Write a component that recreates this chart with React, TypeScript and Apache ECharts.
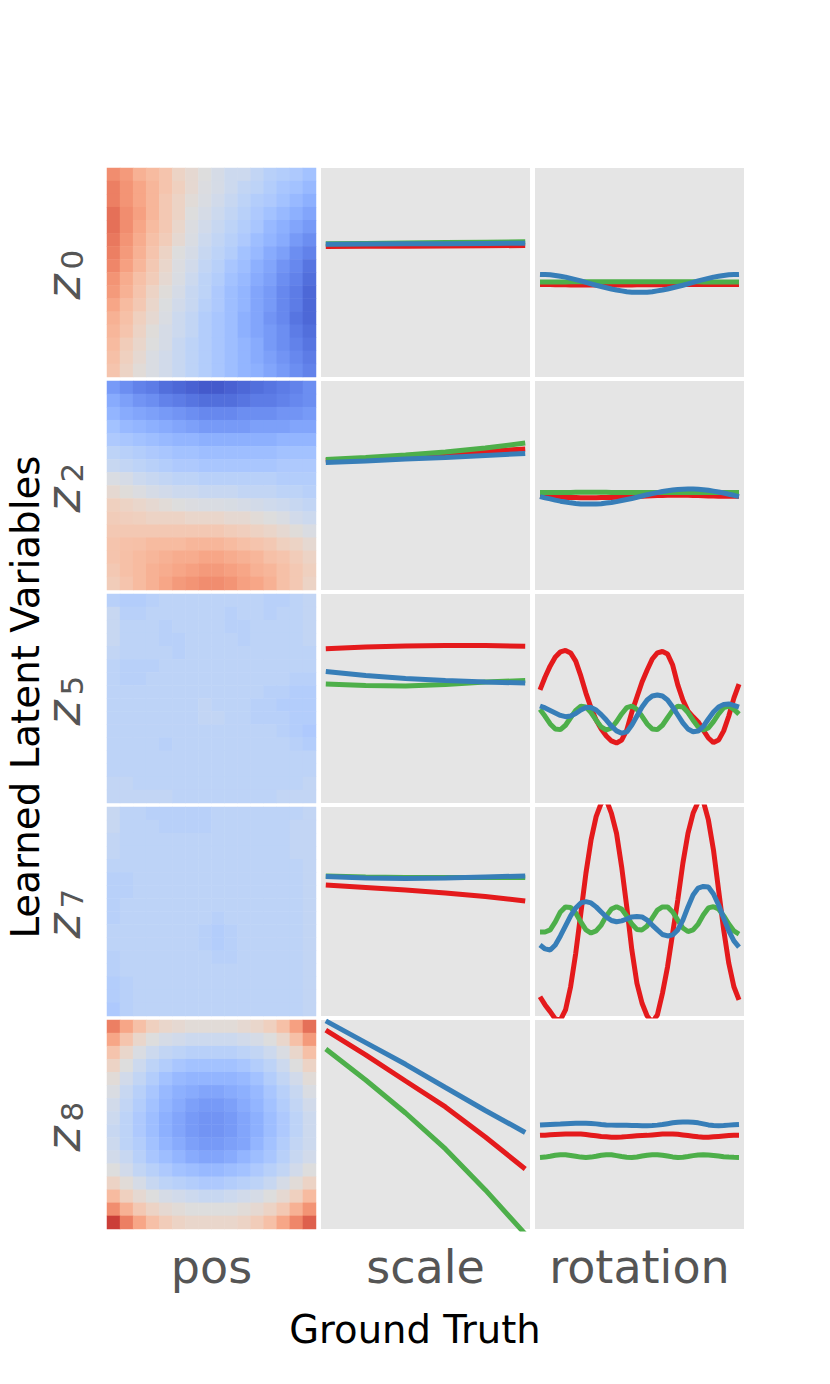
import React, { useEffect, useRef } from 'react';
import * as echarts from 'echarts';

// ---------- colour map (coolwarm, 33 steps from -16 to +16) ----------
const COOLWARM = [
  '#3b4cc0', '#445acc', '#4d68d7', '#5775e1', '#6282ea', '#6c8ef1', '#779af7', '#82a5fb',
  '#8db0fe', '#98b9ff', '#a3c2ff', '#aec9fd', '#b8d0f9', '#c2d5f4', '#ccd9ee', '#d5dbe6',
  '#dddddd', '#e5d8d1', '#ecd3c5', '#f1ccb9', '#f5c4ad', '#f7bba0', '#f7b194', '#f7a687',
  '#f49a7b', '#f18d6f', '#ec7f63', '#e57058', '#de604d', '#d55042', '#cb3e38', '#c0282f', '#b40426',
];

// ---------- labels ----------
const ROW_SUBSCRIPTS = ['0', '2', '5', '7', '8'];
const COLUMN_LABELS = ['pos', 'scale', 'rotation'];
const X_TITLE = 'Ground Truth';
const Y_TITLE = 'Learned Latent Variables';

// ---------- x values ----------
const SCALE_X = [0.5, 0.6, 0.7, 0.8, 0.9, 1.0];
const ROTATION_STEPS = 40; // rotation sampled at 40 steps (index on x)

// ---------- heatmaps (pos), 16 x 16, rows top -> bottom ----------
const HEAT_Z0 = [
  [9, 8, 6, 5, 4, 2, 1, 0, -1, -2, -2, -3, -4, -4.5, -5, -6],
  [10, 8.5, 7, 5.5, 4, 2.5, 1, -0.3, -1, -2, -3, -3.5, -4.5, -5.5, -6, -7],
  [10, 8.5, 7, 5.5, 3.5, 2, 0.5, -0.5, -1.5, -2.5, -3.5, -4.5, -5, -6, -7, -8],
  [11, 9, 7.5, 5.5, 3.5, 2, 0, -1, -2, -3, -4, -5, -6, -7, -8, -9],
  [11, 9, 7, 5, 3.5, 1.5, -0.3, -1.5, -2.5, -3.5, -4.5, -5.5, -7, -8, -9, -10],
  [10.5, 8.5, 6.5, 4.5, 3, 1, -0.5, -2, -3, -4, -5, -6.5, -7.5, -8.5, -10, -11],
  [10, 8, 6, 4, 2, 0, -1, -2.5, -3.5, -4.5, -6, -7, -8.5, -9.5, -11, -12],
  [9.5, 7.5, 5.5, 3.5, 1.5, -0.3, -1.5, -3, -4, -5.5, -6.5, -8, -9, -10.5, -11.5, -13],
  [8.5, 6.5, 4.5, 3, 1, -0.5, -2, -3.5, -4.5, -6, -7, -8.5, -9.5, -11, -12, -13.5],
  [8, 6, 4, 2, 0.3, -1, -2.5, -3.5, -5, -6.5, -7.5, -9, -10, -11.5, -12.5, -14],
  [7, 5, 3.5, 1.5, -0.2, -1.5, -2.5, -4, -5, -6.5, -7.5, -9, -10, -11.5, -12.5, -14],
  [6, 4.5, 2.5, 1, -0.5, -2, -3, -4.5, -5.5, -6.5, -8, -9, -10.5, -11.5, -13, -14],
  [5.5, 4, 2, 0.3, -1, -2, -3, -4.5, -5.5, -6.5, -8, -9, -10, -11, -12.5, -13.5],
  [5, 3, 1.5, 0, -1, -2.5, -3.5, -4.5, -5.5, -6.5, -7.5, -8.5, -10, -11, -12, -13],
  [4.5, 2.5, 1, -0.5, -1.5, -2.5, -3.5, -4.5, -5.5, -6.5, -7.5, -8.5, -9.5, -10.5, -11.5, -12.5],
  [4, 2, 0.5, -0.5, -1.5, -2.5, -3.5, -4.5, -5.5, -6.5, -7.5, -8, -9, -10, -11, -12],
];

const HEAT_Z2 = [
  [-10, -11, -12, -12.5, -13.5, -14, -14.5, -15, -15, -14.5, -14, -13.5, -13, -12.5, -12, -11],
  [-8.5, -9.5, -10.5, -11, -12, -12.5, -13, -13.5, -13.5, -13.5, -13, -12.5, -12.5, -12, -11.5, -11],
  [-7.5, -8.5, -9, -9.5, -10, -10.5, -11, -11.5, -11.5, -11.5, -11, -11, -11, -10.5, -10.5, -10],
  [-6, -7, -7.5, -8, -8.5, -9, -9.5, -10, -10, -10, -10, -9.5, -9.5, -9.5, -9, -9],
  [-5, -5.5, -6, -6.5, -7, -7.5, -7.5, -8, -8, -8, -8, -8, -8, -7.5, -7.5, -7.5],
  [-3.5, -4, -4.5, -5, -5.5, -6, -6, -6.5, -6.5, -6.5, -6.5, -6.5, -6.5, -6, -6, -6],
  [-2.5, -3, -3.5, -4, -4.5, -5, -5, -5.5, -5.5, -5.5, -5.5, -5.5, -5.5, -5, -5, -5],
  [-0.5, -1, -2, -2.5, -3, -3.5, -3.5, -4, -4, -4, -4, -4, -4, -4.5, -4.5, -4.5],
  [1, 0.3, -0.3, -1, -1.5, -2, -2, -2.5, -2.5, -2.5, -3, -3, -3, -3.5, -3.5, -4],
  [2.5, 2, 1.5, 1, 0.5, 0, -0.3, -0.5, -0.5, -0.7, -1, -1.3, -1.7, -2, -2.5, -3],
  [3, 2.7, 2.5, 2, 2, 2, 1.5, 1.5, 1.5, 1, 1, 0.5, 0, -0.5, -1.5, -2],
  [3.5, 3.5, 3.5, 3.5, 3.5, 3.5, 3.5, 3.5, 3.5, 3, 2.7, 2.2, 1.7, 1, 0.3, -0.5],
  [4, 4.3, 4.5, 5, 5, 5, 5.5, 5.5, 5.5, 5, 4.5, 4, 3.5, 2.5, 2, 1],
  [4, 4.5, 5, 5.5, 6, 6.5, 6.5, 7, 7, 6.5, 6, 5.5, 4.5, 4, 3, 2],
  [3.5, 4.5, 5, 6, 6.5, 7, 7.5, 8, 8, 7.5, 7, 6, 5.5, 4.5, 3.5, 2.5],
  [3, 4, 5, 6, 7, 8, 8.5, 9, 9, 8.5, 7.5, 7, 6, 4.5, 3.5, 2],
];

const HEAT_Z5 = [
  [-4, -4.5, -4.5, -4, -3.5, -3.5, -3.5, -3.5, -3.5, -3.5, -3.5, -3.5, -4, -4, -3.5, -3],
  [-2.5, -4, -4, -3.5, -3.5, -3.5, -3.5, -3.5, -3.5, -4, -3.5, -3.5, -4, -3.5, -3.5, -3],
  [-2.5, -3.5, -3.5, -3.5, -4, -3.5, -3.5, -3.5, -3.5, -4, -4, -3.5, -3.5, -3.5, -3.5, -3],
  [-2.5, -3.5, -3.5, -3.5, -4, -4, -3.5, -3.5, -3.5, -3.5, -4, -3.5, -3.5, -3.5, -3.5, -3],
  [-3, -3.5, -3.5, -3.5, -3.5, -4, -3.5, -3.5, -3.5, -3.5, -3.5, -3.5, -3.5, -3.5, -3.5, -3.5],
  [-3.5, -4, -4, -4, -3.5, -3.5, -3.5, -3.5, -3.5, -3.5, -3.5, -3.5, -3.5, -3.5, -3.5, -3.5],
  [-3.5, -4, -4, -3.5, -3.5, -3.5, -3.5, -3.5, -3.5, -3.5, -3.5, -3.5, -3.5, -3.5, -4, -4],
  [-3.5, -3.5, -3.5, -3.5, -3.5, -3.5, -3.5, -3.5, -3.5, -3.5, -3.5, -3.5, -4, -4, -4.5, -4.5],
  [-3.5, -3.5, -3.5, -3.5, -3.5, -3.5, -3.5, -3, -3.5, -3.5, -3.5, -4, -4, -4.5, -4.5, -4.5],
  [-3.5, -3.5, -3.5, -3.5, -3.5, -3.5, -3.5, -3, -3, -3.5, -3.5, -4, -4, -4, -4.5, -4.5],
  [-3.5, -3.5, -3.5, -3.5, -3.5, -3.5, -3.5, -3.5, -3.5, -3.5, -3.5, -3.5, -3.5, -4, -4.5, -5],
  [-3.5, -3.5, -3.5, -3.5, -4, -3.5, -3.5, -3.5, -3.5, -3.5, -3.5, -3.5, -3.5, -3.5, -4, -4.5],
  [-3.5, -3.5, -3.5, -3.5, -3.5, -3.5, -3.5, -3.5, -3.5, -3.5, -3.5, -3.5, -3.5, -3.5, -3.5, -3.5],
  [-3.5, -3.5, -3.5, -3.5, -3.5, -3.5, -3.5, -3.5, -3.5, -3.5, -3.5, -3.5, -3.5, -3.5, -3.5, -3.5],
  [-3, -3, -3.5, -3.5, -3.5, -3.5, -3.5, -3.5, -3.5, -3.5, -3.5, -3.5, -3.5, -3.5, -3.5, -3],
  [-3, -3, -3, -3, -3, -3.5, -3.5, -3.5, -3.5, -3.5, -3.5, -3.5, -3.5, -3, -3, -3],
];

const HEAT_Z7 = [
  [-2.5, -3.5, -3.5, -4, -4, -4, -4, -4, -3.5, -3.5, -3.5, -3.5, -3.5, -3.5, -3.5, -3],
  [-2.5, -3.5, -3.5, -3.5, -4, -4, -4, -4, -3.5, -3.5, -3.5, -3.5, -3.5, -3.5, -3, -3],
  [-3, -3.5, -3.5, -3.5, -3.5, -3.5, -3.5, -3.5, -3.5, -3.5, -3.5, -3.5, -3.5, -3.5, -3, -3],
  [-3, -3.5, -3.5, -3.5, -3.5, -3.5, -3.5, -3.5, -3.5, -3.5, -3.5, -3.5, -3.5, -3.5, -3, -3],
  [-3.5, -3.5, -3.5, -3.5, -3.5, -3.5, -3.5, -3.5, -3.5, -3.5, -3.5, -3.5, -3.5, -3.5, -3.5, -3],
  [-4, -4, -3.5, -3.5, -3.5, -3.5, -3.5, -3.5, -3.5, -3.5, -3.5, -3.5, -3.5, -3.5, -3.5, -3],
  [-4, -4, -3.5, -3.5, -3.5, -3.5, -3.5, -3.5, -3.5, -3.5, -3.5, -3.5, -3.5, -3.5, -3.5, -3],
  [-4, -3.5, -3.5, -3.5, -3.5, -3.5, -3.5, -3.5, -3.5, -3.5, -3.5, -3.5, -3.5, -3.5, -3.5, -3],
  [-4, -3.5, -3.5, -3.5, -3.5, -3.5, -3.5, -3.5, -4, -3.5, -3.5, -3.5, -3.5, -3.5, -3.5, -3],
  [-3.5, -3.5, -3.5, -3.5, -3.5, -3.5, -3.5, -4, -4.5, -4, -3.5, -3.5, -3.5, -3.5, -3.5, -3],
  [-3.5, -3.5, -3.5, -3.5, -3.5, -3.5, -3.5, -4, -4.5, -4, -3.5, -3.5, -3.5, -3.5, -3.5, -3],
  [-4, -3.5, -3.5, -3.5, -3.5, -3.5, -3.5, -3.5, -4, -4, -3.5, -3.5, -3.5, -3.5, -3.5, -3],
  [-4, -3.5, -3.5, -3.5, -3.5, -3.5, -3.5, -3.5, -3.5, -3.5, -3.5, -3.5, -3.5, -3.5, -3.5, -3],
  [-4.5, -4, -3.5, -3.5, -3.5, -3.5, -3.5, -3.5, -3.5, -3.5, -3.5, -3.5, -3.5, -3.5, -3.5, -3],
  [-4.5, -4, -3.5, -3.5, -3.5, -3.5, -3.5, -3.5, -3.5, -3.5, -3.5, -3.5, -3.5, -3.5, -3.5, -3],
  [-5, -4, -3.5, -3.5, -3.5, -3.5, -3.5, -3.5, -3.5, -3.5, -3.5, -3.5, -3.5, -3.5, -3.5, -3],
];

const HEAT_Z8 = [
  [10, 7, 4.5, 2.5, 1.5, 1, 0.5, 0.5, 0.5, 0.5, 1, 1.5, 2.5, 4.5, 7.5, 11],
  [7, 4, 1.5, 0, -1, -1.5, -2, -2, -2, -2, -1.5, -1, 0, 1.5, 4.5, 8],
  [4, 1.5, -0.5, -2, -3, -3.5, -4, -4, -4, -4, -3.5, -3, -2, -0.5, 1.5, 4.5],
  [2, 0, -2, -3.5, -4.5, -5.5, -6, -6, -6, -6, -5.5, -4.5, -3.5, -2, 0, 2],
  [0.5, -1.5, -3, -4.5, -6, -7, -7.5, -7.5, -7.5, -7.5, -7, -6, -4.5, -3, -1.5, 0.5],
  [-0.5, -2.5, -4, -5.5, -7, -8, -8.5, -9, -9, -8.5, -8, -7, -5.5, -4, -2.5, -0.5],
  [-1.5, -3, -4.5, -6, -7.5, -8.5, -9.5, -10, -10, -9.5, -8.5, -7.5, -6, -4.5, -3, -1.5],
  [-2, -3.5, -5, -6.5, -8, -9, -10, -10.5, -10.5, -10, -9, -8, -6.5, -5, -3.5, -2],
  [-2.5, -3.5, -5, -6.5, -8, -9, -10, -10.5, -10.5, -10, -9, -8, -6.5, -5, -3.5, -2],
  [-2, -3.5, -4.5, -6, -7.5, -8.5, -9.5, -10, -10, -9.5, -9, -7.5, -6, -4.5, -3, -2],
  [-1.5, -2.5, -4, -5.5, -6.5, -7.5, -8.5, -9, -9, -8.5, -7.5, -6.5, -5.5, -4, -2.5, -1.5],
  [0, -1.5, -3, -4, -5, -6, -6.5, -7, -7, -6.5, -6, -5, -4, -3, -1.5, 0],
  [2, 0.5, -1, -2.5, -3.5, -4, -4.5, -5, -5, -4.5, -4, -3.5, -2.5, -1, 0.5, 2],
  [5, 2.5, 1, 0, -1, -1.5, -2, -2.5, -2.5, -2, -1.5, -1, 0, 1, 2.5, 5],
  [9, 6, 3.5, 2, 1, 0.5, 0, 0, 0, 0, 0.5, 1, 2, 3.5, 6, 8.5],
  [14, 10, 7, 4.5, 3, 2, 1.5, 1.5, 1.5, 1.5, 2, 3, 4.5, 7, 9.5, 12],
];

// ---------- scale lines (6 points) ----------
const Z0_SCALE_RED = [62.4, 62.5, 62.6, 62.7, 62.8, 62.9];
const Z0_SCALE_GREEN = [63.7, 63.9, 64.1, 64.3, 64.5, 64.7];
const Z0_SCALE_BLUE = [63.5, 63.6, 63.7, 63.8, 63.9, 64.0];

const Z2_SCALE_RED = [62.0, 62.9, 63.9, 65.1, 66.3, 67.5];
const Z2_SCALE_GREEN = [62.4, 63.4, 64.6, 66.0, 67.9, 70.3];
const Z2_SCALE_BLUE = [61.0, 61.7, 62.7, 63.4, 64.4, 65.3];

const Z5_SCALE_RED = [73.8, 74.6, 75.1, 75.4, 75.3, 75.0];
const Z5_SCALE_GREEN = [56.9, 56.2, 56.0, 56.7, 57.9, 58.6];
const Z5_SCALE_BLUE = [62.9, 61.0, 59.6, 58.6, 57.9, 57.4];

const Z7_SCALE_RED = [62.7, 61.5, 60.3, 58.9, 57.2, 55.0];
const Z7_SCALE_GREEN = [67.0, 66.5, 66.3, 66.3, 66.3, 66.3];
const Z7_SCALE_BLUE = [66.7, 66.0, 65.8, 66.0, 66.5, 67.0];

const Z8_SCALE_RED = [95.2, 83.3, 70.8, 58.4, 44.0, 28.7];
const Z8_SCALE_GREEN = [86.1, 71.3, 55.5, 38.3, 18.7, -2.4];
const Z8_SCALE_BLUE = [99.6, 89.2, 78.8, 67.7, 56.7, 46.2];

// ---------- rotation lines (40 points) ----------
const Z0_ROT_RED = [44.2, 44.2, 44.2, 44.1, 44.1, 44.1, 44.0, 44.0, 44.0, 44.0, 44.0, 44.0, 44.0, 44.0, 44.0, 44.0, 44.0, 44.0, 44.0, 44.1, 44.1, 44.1, 44.1, 44.1, 44.1, 44.1, 44.1, 44.2, 44.2, 44.2, 44.2, 44.2, 44.2, 44.2, 44.2, 44.2, 44.2, 44.2, 44.2, 44.2];
const Z0_ROT_GREEN = [45.5, 45.5, 45.5, 45.5, 45.5, 45.5, 45.6, 45.6, 45.6, 45.6, 45.6, 45.6, 45.6, 45.6, 45.6, 45.6, 45.6, 45.6, 45.6, 45.6, 45.6, 45.6, 45.6, 45.6, 45.6, 45.6, 45.6, 45.6, 45.6, 45.6, 45.6, 45.6, 45.5, 45.5, 45.5, 45.5, 45.5, 45.5, 45.5, 45.5];
const Z0_ROT_BLUE = [49.1, 49.0, 48.9, 48.6, 48.2, 47.8, 47.2, 46.6, 46.0, 45.3, 44.6, 43.9, 43.3, 42.7, 42.1, 41.6, 41.2, 40.8, 40.6, 40.5, 40.5, 40.6, 40.8, 41.2, 41.6, 42.1, 42.7, 43.3, 43.9, 44.6, 45.3, 46.0, 46.6, 47.2, 47.8, 48.2, 48.6, 48.9, 49.0, 49.1];

const Z2_ROT_RED = [44.8, 44.7, 44.6, 44.5, 44.4, 44.3, 44.2, 44.2, 44.1, 44.1, 44.1, 44.1, 44.2, 44.2, 44.3, 44.4, 44.5, 44.6, 44.7, 44.8, 44.9, 45.0, 45.1, 45.2, 45.2, 45.3, 45.3, 45.3, 45.3, 45.3, 45.2, 45.2, 45.1, 45.0, 45.0, 44.9, 44.9, 44.8, 44.8, 44.8];
const Z2_ROT_GREEN = [46.6, 46.6, 46.6, 46.7, 46.7, 46.7, 46.7, 46.8, 46.8, 46.8, 46.8, 46.8, 46.8, 46.8, 46.7, 46.7, 46.7, 46.7, 46.7, 46.7, 46.7, 46.7, 46.7, 46.7, 46.6, 46.6, 46.6, 46.6, 46.6, 46.6, 46.6, 46.6, 46.6, 46.6, 46.6, 46.6, 46.6, 46.6, 46.6, 46.6];
const Z2_ROT_BLUE = [44.7, 44.1, 43.6, 43.0, 42.5, 42.1, 41.7, 41.4, 41.2, 41.1, 41.1, 41.2, 41.3, 41.6, 41.9, 42.3, 42.8, 43.3, 43.8, 44.4, 45.0, 45.6, 46.1, 46.6, 47.1, 47.5, 47.8, 48.1, 48.2, 48.3, 48.3, 48.2, 48.0, 47.7, 47.3, 46.9, 46.4, 45.8, 45.3, 44.7];

const Z5_ROT_RED = [54.1, 60.3, 65.6, 69.9, 72.3, 73.0, 71.8, 67.9, 60.8, 52.6, 45.5, 39.7, 35.4, 32.1, 29.7, 28.7, 30.1, 34.9, 43.5, 50.7, 57.9, 63.6, 68.9, 71.8, 72.5, 71.3, 66.0, 56.5, 49.3, 44.0, 41.2, 38.8, 34.9, 31.1, 28.9, 30.1, 34.5, 41.6, 50.2, 56.9];
const Z5_ROT_GREEN = [44.8, 41.5, 37.8, 35.4, 35.1, 37.2, 40.8, 44.3, 46.3, 45.9, 43.3, 39.6, 36.4, 34.9, 35.9, 38.9, 42.6, 45.6, 46.4, 44.8, 41.5, 37.8, 35.4, 35.1, 37.2, 40.8, 44.3, 46.3, 45.9, 43.3, 39.6, 36.4, 34.9, 35.9, 38.9, 42.6, 45.6, 46.4, 44.8, 42.5];
const Z5_ROT_BLUE = [46.4, 45.5, 44.3, 43.1, 41.9, 41.3, 41.6, 42.8, 44.5, 45.7, 45.7, 44.5, 42.3, 39.7, 36.8, 34.5, 33.4, 34.0, 37.3, 41.6, 45.9, 49.3, 51.2, 51.7, 51.2, 49.3, 45.9, 42.1, 38.3, 35.4, 34.1, 34.4, 36.6, 40.2, 43.5, 45.9, 47.1, 47.4, 46.7, 45.9];

const Z7_ROT_RED = [9.2, 5.3, 2.1, -1.4, -1.9, 2.9, 14.0, 30.0, 49.1, 68.3, 84.2, 95.4, 101.9, 103.4, 97.0, 87.4, 71.4, 52.3, 31.6, 15.6, 6.1, 0.0, -2.9, 0.5, 10.9, 23.6, 39.6, 55.5, 73.1, 87.4, 97.0, 102.5, 102.8, 93.8, 79.4, 60.3, 41.2, 25.2, 14.0, 7.7];
const Z7_ROT_GREEN = [40.2, 40.2, 41.2, 45.0, 49.8, 52.2, 51.9, 49.3, 45.0, 41.2, 39.7, 40.7, 43.5, 47.9, 51.2, 52.3, 51.2, 47.9, 44.0, 41.4, 41.2, 43.1, 46.9, 50.7, 52.2, 52.2, 49.8, 45.9, 42.1, 40.4, 41.2, 44.0, 48.3, 51.7, 52.3, 51.2, 47.9, 44.0, 40.7, 39.2];
const Z7_ROT_BLUE = [34.0, 32.1, 31.6, 34.0, 38.3, 43.1, 47.9, 51.7, 54.1, 54.7, 54.1, 52.2, 49.8, 47.4, 45.7, 45.1, 45.5, 46.4, 47.4, 47.6, 47.4, 45.9, 43.5, 41.2, 39.0, 38.3, 38.8, 41.2, 45.9, 52.2, 57.9, 61.2, 62.0, 61.7, 58.4, 53.1, 46.9, 40.7, 35.9, 33.0];

const Z8_ROT_RED = [44.8, 44.9, 45.1, 45.2, 45.3, 45.4, 45.5, 45.5, 45.4, 45.2, 44.9, 44.6, 44.3, 44.1, 43.9, 43.9, 44.0, 44.2, 44.4, 44.6, 44.7, 44.8, 45.0, 45.2, 45.4, 45.5, 45.5, 45.3, 45.0, 44.7, 44.4, 44.1, 43.9, 43.9, 44.1, 44.3, 44.5, 44.7, 44.8, 44.8];
const Z8_ROT_GREEN = [34.25, 34.4, 34.8, 35.3, 35.55, 35.5, 35.2, 34.8, 34.4, 34.25, 34.4, 34.8, 35.3, 35.55, 35.5, 35.1, 34.7, 34.35, 34.25, 34.45, 34.9, 35.3, 35.5, 35.55, 35.3, 34.9, 34.5, 34.25, 34.35, 34.7, 35.1, 35.4, 35.55, 35.45, 35.2, 34.9, 34.6, 34.4, 34.3, 34.25];
const Z8_ROT_BLUE = [49.8, 49.9, 50.0, 50.1, 50.2, 50.4, 50.5, 50.6, 50.6, 50.6, 50.5, 50.3, 50.0, 49.8, 49.7, 49.6, 49.6, 49.6, 49.5, 49.5, 49.4, 49.4, 49.5, 49.7, 50.0, 50.4, 50.8, 51.1, 51.2, 51.2, 51.1, 50.8, 50.3, 49.8, 49.5, 49.4, 49.5, 49.7, 49.9, 50.0];

// ---------- styling / layout ----------
const LINE_COLORS = ['#e41a1c', '#4daf4a', '#377eb8'];
const LINE_WIDTH = 5;
const PANEL_BG = '#e5e5e5';
const COL_LEFTS = [107, 321, 535];
const ROW_TOPS = [168, 381, 594, 807, 1020];
const PANEL = 209;
const FONT = '"DejaVu Sans", "Liberation Sans", sans-serif';

const ROWS = [
  { sub: ROW_SUBSCRIPTS[0], heat: HEAT_Z0, scale: [Z0_SCALE_RED, Z0_SCALE_GREEN, Z0_SCALE_BLUE], rot: [Z0_ROT_RED, Z0_ROT_GREEN, Z0_ROT_BLUE] },
  { sub: ROW_SUBSCRIPTS[1], heat: HEAT_Z2, scale: [Z2_SCALE_RED, Z2_SCALE_GREEN, Z2_SCALE_BLUE], rot: [Z2_ROT_RED, Z2_ROT_GREEN, Z2_ROT_BLUE] },
  { sub: ROW_SUBSCRIPTS[2], heat: HEAT_Z5, scale: [Z5_SCALE_RED, Z5_SCALE_GREEN, Z5_SCALE_BLUE], rot: [Z5_ROT_RED, Z5_ROT_GREEN, Z5_ROT_BLUE] },
  { sub: ROW_SUBSCRIPTS[3], heat: HEAT_Z7, scale: [Z7_SCALE_RED, Z7_SCALE_GREEN, Z7_SCALE_BLUE], rot: [Z7_ROT_RED, Z7_ROT_GREEN, Z7_ROT_BLUE] },
  { sub: ROW_SUBSCRIPTS[4], heat: HEAT_Z8, scale: [Z8_SCALE_RED, Z8_SCALE_GREEN, Z8_SCALE_BLUE], rot: [Z8_ROT_RED, Z8_ROT_GREEN, Z8_ROT_BLUE] },
];

function buildOption() {
  const grid: any[] = [];
  const xAxis: any[] = [];
  const yAxis: any[] = [];
  const series: any[] = [];
  const heatIdx: number[] = [];
  const cats = Array.from({ length: 16 }, (_, i) => String(i));

  ROWS.forEach((row, r) => {
    const top = ROW_TOPS[r];
    // --- heatmap panel ---
    let gi = grid.length;
    grid.push({ left: COL_LEFTS[0], top, width: PANEL, height: PANEL, show: false, containLabel: false });
    xAxis.push({ type: 'category', gridIndex: gi, data: cats, show: false });
    yAxis.push({ type: 'category', gridIndex: gi, data: cats, show: false, inverse: true });
    heatIdx.push(series.length);
    series.push({
      type: 'heatmap',
      xAxisIndex: gi,
      yAxisIndex: gi,
      data: row.heat.flatMap((vals, ri) => vals.map((v, ci) => [ci, ri, v])),
      silent: true,
      itemStyle: { borderWidth: 0 },
      emphasis: { disabled: true },
    });

    // --- scale panel ---
    gi = grid.length;
    grid.push({ left: COL_LEFTS[1], top, width: PANEL, height: PANEL, show: true, backgroundColor: PANEL_BG, borderWidth: 0 });
    xAxis.push({ type: 'value', gridIndex: gi, min: 0.488, max: 1.012, show: false });
    yAxis.push({ type: 'value', gridIndex: gi, min: 0, max: 100, show: false });
    row.scale.forEach((vals, k) => {
      series.push({
        type: 'line',
        xAxisIndex: gi,
        yAxisIndex: gi,
        data: vals.map((v, i) => [SCALE_X[i], v]),
        showSymbol: false,
        silent: true,
        clip: true,
        lineStyle: { color: LINE_COLORS[k], width: LINE_WIDTH },
        itemStyle: { color: LINE_COLORS[k] },
      });
    });

    // --- rotation panel ---
    gi = grid.length;
    grid.push({ left: COL_LEFTS[2], top, width: PANEL, height: PANEL, show: true, backgroundColor: PANEL_BG, borderWidth: 0 });
    xAxis.push({ type: 'value', gridIndex: gi, min: -0.98, max: ROTATION_STEPS - 1 + 0.98, show: false });
    yAxis.push({ type: 'value', gridIndex: gi, min: 0, max: 100, show: false });
    row.rot.forEach((vals, k) => {
      series.push({
        type: 'line',
        xAxisIndex: gi,
        yAxisIndex: gi,
        data: vals.map((v, i) => [i, v]),
        showSymbol: false,
        silent: true,
        clip: true,
        lineStyle: { color: LINE_COLORS[k], width: LINE_WIDTH },
        itemStyle: { color: LINE_COLORS[k] },
      });
    });
  });

  const graphics: any[] = [];
  ROWS.forEach((row, r) => {
    const yc = ROW_TOPS[r] + PANEL / 2;
    graphics.push({
      type: 'text', x: 63, y: yc + 27, rotation: Math.PI / 2, silent: true,
      style: { text: 'z', fontSize: 48, fontStyle: 'italic', fontFamily: FONT, fill: '#555555', align: 'left', verticalAlign: 'middle' },
    });
    graphics.push({
      type: 'text', x: 72, y: yc - 3, rotation: Math.PI / 2, silent: true,
      style: { text: row.sub, fontSize: 31, fontFamily: FONT, fill: '#555555', align: 'left', verticalAlign: 'middle' },
    });
  });
  COLUMN_LABELS.forEach((lab, c) => {
    graphics.push({
      type: 'text', x: COL_LEFTS[c] + PANEL / 2, y: 1267, silent: true,
      style: { text: lab, fontSize: 46, fontFamily: FONT, fill: '#555555', align: 'center', verticalAlign: 'middle' },
    });
  });
  graphics.push({
    type: 'text', x: 415, y: 1329, silent: true,
    style: { text: X_TITLE, fontSize: 38.5, fontFamily: FONT, fill: '#000000', align: 'center', verticalAlign: 'middle' },
  });
  graphics.push({
    type: 'text', x: 25, y: 697, rotation: Math.PI / 2, silent: true,
    style: { text: Y_TITLE, fontSize: 38.8, fontFamily: FONT, fill: '#000000', align: 'center', verticalAlign: 'middle' },
  });

  return {
    animation: false,
    backgroundColor: '#ffffff',
    grid,
    xAxis,
    yAxis,
    visualMap: {
      type: 'continuous',
      show: false,
      min: -16,
      max: 16,
      seriesIndex: heatIdx,
      dimension: 2,
      inRange: { color: COOLWARM },
    },
    series,
    graphic: { elements: graphics },
  };
}

export default function App() {
  const ref = useRef<HTMLDivElement>(null);
  useEffect(() => {
    if (!ref.current) return;
    const chart = echarts.init(ref.current, null, { renderer: 'svg' });
    chart.setOption(buildOption() as any);
    return () => chart.dispose();
  }, []);
  return (
    <div
      ref={ref}
      style={{ position: 'fixed', left: 0, top: 0, width: 830, height: 1384, background: '#ffffff' }}
    />
  );
}
